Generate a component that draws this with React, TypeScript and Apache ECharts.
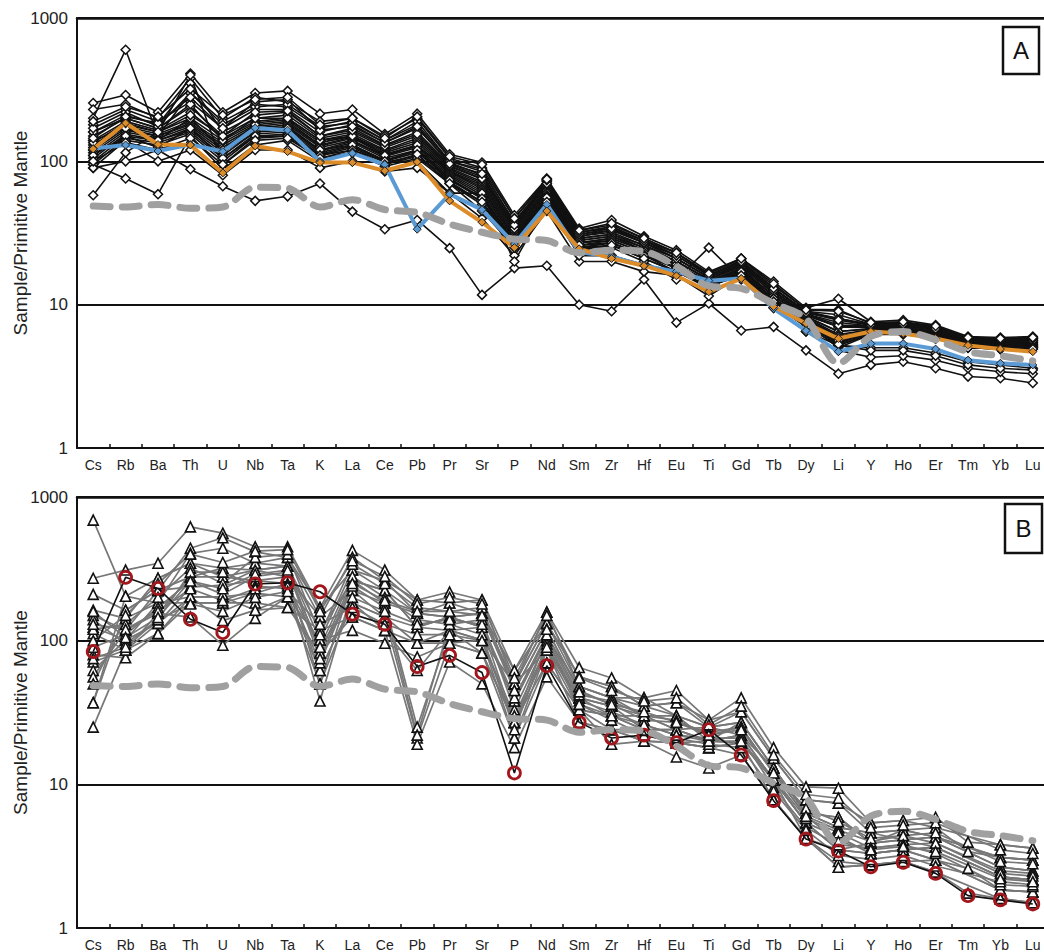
import React, { useEffect, useRef } from "react";
import * as echarts from "echarts";

const categories = ["Cs","Rb","Ba","Th","U","Nb","Ta","K","La","Ce","Pb","Pr","Sr","P","Nd","Sm","Zr","Hf","Eu","Ti","Gd","Tb","Dy","Li","Y","Ho","Er","Tm","Yb","Lu"];
const yTickLabels = ["1", "10", "100", "1000"];

const primitiveRef = [48.7,48,50,47,48,66,65,48,54,46,44,36.5,32,28.7,28,23,24,23.5,18.5,13.5,13,10.2,8,3.9,6.0,6.5,5.7,4.7,4.4,4.05];

const suiteABlue = [123,130,118,131,117,171,165,100,114,95,33.6,59,46,26.5,50,23.3,21.6,18.7,17,14.7,15.2,9.4,6.6,4.7,5.35,5.35,4.9,4.1,3.9,3.8];
const suiteAOrange = [122,185,131,130,83,128,117,98,98,86,99,53,37.6,25,45,24.5,21,18.7,15.9,12.3,15.2,9.7,7.4,5.8,6.5,6.3,5.8,5.2,4.9,4.7];

const suiteA01 = [255,290,220,410,220,300,310,215,230,155,215,112,98,42,76,34,39,30,24,17,21,14.5,9.5,11,7.6,7.8,7.2,6.0,5.9,6.0];
const suiteA02 = [230,250,200,380,200,280,260,190,200,150,200,105,90,40,74,33,36,29,23,16.5,21,13.5,9.3,9.2,7.4,7.5,7.0,5.9,5.8,5.9];
const suiteA03 = [200,600,150,300,190,250,240,170,190,140,180,100,85,38,72,32,35,28,22,16,20,13,9,8.5,7.3,7.4,6.9,5.8,5.7,5.8];
const suiteA04 = [180,230,190,260,170,230,230,160,180,135,170,98,80,36,70,31,34,27,22,16,20,13,8.8,8,7.2,7.3,6.8,5.7,5.6,5.7];
const suiteA05 = [160,210,180,350,160,210,220,150,170,130,160,95,78,35,68,30,33,27,21,15.5,19.5,12.5,8.6,7.5,7.1,7.2,6.7,5.6,5.5,5.6];
const suiteA06 = [150,200,170,240,150,200,210,145,160,125,150,92,75,34,66,30,32,26,21,15.5,19,12.5,8.5,7,7.0,7.1,6.6,5.6,5.5,5.5];
const suiteA07 = [140,190,165,220,145,190,200,140,155,120,145,90,72,33,64,29,31,26,20,15,19,12,8.4,7,6.9,7.0,6.5,5.5,5.4,5.5];
const suiteA08 = [130,180,160,200,140,185,195,135,150,118,140,88,70,32,63,29,31,25,20,15,18.5,12,8.3,6.5,6.8,6.9,6.4,5.5,5.4,5.4];
const suiteA09 = [125,175,155,190,135,180,190,130,148,115,135,86,68,31,62,28,30,25,20,15,18.5,12,8.2,6.5,6.8,6.8,6.4,5.4,5.3,5.4];
const suiteA10 = [120,170,150,185,130,175,185,128,145,112,130,85,66,30,60,28,30,24,19,14.5,18,11.5,8.1,6.2,6.7,6.8,6.3,5.4,5.3,5.3];
const suiteA11 = [115,165,150,180,125,170,180,125,140,110,128,84,64,30,60,27,29,24,19,14.5,18,11.5,8,6,6.6,6.7,6.2,5.3,5.2,5.3];
const suiteA12 = [110,160,145,175,120,165,175,120,138,108,125,82,62,29,58,27,29,24,19,14.5,17.5,11.5,8,6,6.6,6.6,6.2,5.3,5.2,5.2];
const suiteA13 = [105,155,140,170,115,160,170,118,135,105,120,80,60,29,57,27,28,23,19,14,17.5,11,7.9,5.8,6.5,6.6,6.1,5.2,5.1,5.2];
const suiteA14 = [100,150,140,165,110,160,165,115,130,102,118,78,58,28,56,26,28,23,18,14,17,11,7.8,5.6,6.5,6.5,6.1,5.2,5.1,5.1];
const suiteA15 = [95,145,135,160,105,155,160,112,128,100,115,76,56,28,55,26,27,22,18,14,17,11,7.7,5.5,6.4,6.4,6.0,5.1,5.0,5.1];
const suiteA16 = [90,140,130,155,100,150,155,110,125,98,110,75,55,27,54,25,27,22,18,14,16.5,10.8,7.6,5.4,6.3,6.4,6.0,5.1,5.0,5.0];
const suiteA17 = [58,115,160,400,95,145,150,105,120,95,108,72,52,27,52,25,26,22,17,13.5,16.5,10.5,7.5,5.2,6.2,6.3,5.9,5.0,4.9,5.0];
const suiteA18 = [95,76,59,150,88,130,140,100,115,92,105,70,50,26,50,24,26,21,17,13.5,16,10.5,7.4,5,6.2,6.2,5.8,5.0,4.9,4.9];
const suiteA19 = [90,100,120,88,67,53,57,70,44.6,33.6,39,24.8,11.7,18,18.7,10,9,15,7.5,10.2,6.6,7.0,4.8,3.3,3.8,4.0,3.6,3.15,3.07,2.84];
const suiteA20 = [140,170,140,200,120,180,170,120,130,100,100,60,40,22,45,20,20,17,16,11.5,16,9.5,6.5,4.8,4.3,4.4,4.1,3.6,3.4,3.3];
const suiteA21 = [160,200,170,250,140,200,200,140,150,110,130,70,45,25,50,22,22,19,17,13,17,10,7,5.2,5.0,5.0,4.6,4.0,3.8,3.6];
const suiteA22 = [120,140,100,120,80,120,120,90,100,85,90,60,60,20,50,25,25,20,15,25,15,9.5,6.5,5.2,4.8,4.8,4.4,3.8,3.6,3.5];
const suiteA23 = [170,220,175,300,180,240,250,175,185,140,190,100,88,37,73,32,35,28,23,16,20.5,13,9,8,7.3,7.4,6.9,5.8,5.7,5.8];
const suiteA24 = [135,185,160,210,150,220,225,150,165,128,155,93,76,34,70,31,33,27,21,15.5,19.5,12.5,8.6,7.2,7.1,7.2,6.7,5.7,5.6,5.6];
const suiteA25 = [145,205,185,280,170,260,270,165,175,135,175,96,82,36,74,32,34,28,22,16,20,13,8.8,7.8,7.2,7.3,6.8,5.8,5.7,5.8];
const suiteA26 = [110,150,125,170,105,150,150,110,120,100,120,74,55,28,56,26,27,22,18,14,17,11,7.6,5.6,6.3,6.3,5.9,5.1,5.0,5.0];
const suiteA27 = [190,240,205,320,210,270,280,180,200,145,205,108,95,40,75,33,37,29,23,16.5,21,14,9.2,9,7.5,7.6,7.1,5.9,5.8,5.9];
const suiteA28 = [100,135,120,145,95,140,145,105,115,95,112,70,52,26,52,24,26,21,17,13.5,16,10.5,7.4,5.3,6.2,6.3,5.8,5.0,4.9,4.9];
const suiteALines = [suiteA01,suiteA02,suiteA03,suiteA04,suiteA05,suiteA06,suiteA07,suiteA08,suiteA09,suiteA10,suiteA11,suiteA12,suiteA13,suiteA14,suiteA15,suiteA16,suiteA17,suiteA18,suiteA19,suiteA20,suiteA21,suiteA22,suiteA23,suiteA24,suiteA25,suiteA26,suiteA27,suiteA28];

const suiteBRed = [84,276,231,141,114,248,253,219,153,130,66,79,60,12,67,27,21,22,19.5,24,16,7.7,4.16,3.44,2.67,2.87,2.4,1.68,1.57,1.47];

const suiteB01 = [690,204,272,346,278,310,330,118,262,224,124,146,155,50,132,48,40,35,30,25,27,13,6.3,5.0,4.6,4.8,4.3,null,3.1,2.97];
const suiteB02 = [272,310,346,620,560,450,450,170,425,310,192,218,192,62,158,65,55,40,45,28,40,18,9.6,9.4,5.4,5.6,5.9,3.96,3.8,3.6];
const suiteB03 = [210,163,224,440,520,415,380,146,380,262,155,183,155,50,132,56,48,35,37,25,32,15.2,7.8,7.4,4.6,4.8,5.0,3.4,3.1,2.97];
const suiteB04 = [163,143,183,405,440,346,330,101,310,224,124,146,124,38,106,48,40,30,30,20,27,13,6.3,5.9,3.9,4.1,4.3,null,2.65,2.5];
const suiteB05 = [150,118,155,278,320,310,278,50,262,183,25,118,101,27,86,40,35,30,24,20,22,10.7,5.4,4.3,3.3,3.5,3.65,null,2.27,2.16];
const suiteB06 = [124,101,132,237,243,262,250,38,224,146,21,96,82,21,70,33,30,24,19.5,18,19.5,10.7,5.4,3.5,3.3,3.5,2.97,null,1.84,1.78];
const suiteB07 = [112,86,112,202,202,214,202,62,183,118,19,71,50,18,56,27,24,20,15.5,13,16,7.8,4.2,2.65,2.75,2.9,2.45,1.75,1.6,1.5];
const suiteB08 = [80,76,112,183,183,183,170,82,146,118,96,96,82,27,70,33,19,20,19.5,18,19.5,7.8,4.2,2.9,2.75,2.9,2.97,2.6,1.84,1.78];
const suiteB09 = [71,86,155,146,93,143,202,101,118,96,77,96,101,50,86,40,30,24,24,25,22,10.7,5.4,3.5,3.9,4.1,3.65,null,2.27,2.16];
const suiteB10 = [62,101,183,202,138,163,170,118,146,118,62,118,124,38,106,40,35,24,24,20,22,13,6.3,5.0,4.6,4.1,4.3,null,2.65,2.5];
const suiteB11 = [56,118,224,278,278,262,278,146,224,183,155,146,155,62,132,56,48,35,37,28,32,15.2,7.8,7.4,5.4,5.6,5.0,null,3.8,3.6];
const suiteB12 = [50,143,272,346,320,346,380,170,310,262,192,183,192,50,158,48,40,40,30,25,27,13,6.3,5.9,3.9,4.8,4.3,null,3.1,2.97];
const suiteB13 = [37,163,224,237,243,310,330,82,262,224,155,146,124,27,106,33,30,30,24,20,19.5,10.7,5.4,4.3,3.3,3.5,3.65,null,2.27,2.16];
const suiteB14 = [37,204,183,183,183,214,250,62,183,146,124,118,101,21,86,27,24,20,19.5,18,16,7.8,4.2,2.65,2.75,2.9,2.45,null,1.6,1.5];
const suiteB15 = [25,86,132,202,202,163,202,50,183,146,96,118,82,27,86,33,24,24,19.5,20,19.5,10.7,4.2,3.5,3.3,3.5,2.97,null,1.84,1.78];
const suiteB16 = [120,130,200,320,250,380,400,110,340,250,170,160,170,45,120,45,36,28,27,23,25,12,6.0,4.8,4.0,4.4,3.9,null,2.5,2.4];
const suiteB17 = [90,110,170,260,210,280,300,90,280,200,140,130,140,33,100,38,32,26,22,21,21,9.5,5.0,3.8,3.6,3.8,3.3,null,2.0,1.95];
const suiteB18 = [140,95,140,300,300,240,230,70,240,170,22,130,110,24,95,36,28,22,21,19,18,9,4.8,3.2,3.0,3.2,2.7,null,2.1,2.0];
const suiteB19 = [100,150,250,400,350,420,430,160,360,280,180,200,180,55,150,55,45,38,40,26,35,16,8.5,8,5.0,5.2,5.4,null,3.5,3.3];
const suiteB20 = [130,120,160,230,190,230,240,90,200,160,130,140,130,40,110,42,38,30,28,22,25,12,6.8,5.5,4.2,4.4,4.6,null,2.9,2.8];
const suiteB21 = [75,90,140,180,160,200,220,130,170,130,110,110,100,30,90,36,30,26,22,20,20,11,5.8,4.6,3.6,3.8,3.9,null,2.4,2.3];
const suiteB22 = [160,105,145,260,230,290,310,75,250,190,160,160,150,45,120,44,36,32,27,22,24,12,6.0,4.0,3.5,3.7,3.4,null,2.2,2.1];
const suiteBLines = [suiteB01,suiteB02,suiteB03,suiteB04,suiteB05,suiteB06,suiteB07,suiteB08,suiteB09,suiteB10,suiteB11,suiteB12,suiteB13,suiteB14,suiteB15,suiteB16,suiteB17,suiteB18,suiteB19,suiteB20,suiteB21,suiteB22];

const FONT = "Liberation Sans, Arial, sans-serif";

function makeAxes() {
  const x = {
    type: "category", data: categories, boundaryGap: true,
    axisLine: { lineStyle: { color: "#111", width: 2 } },
    axisTick: { show: true, inside: true, length: 4, interval: 0, lineStyle: { color: "#111", width: 1.5 } },
    axisLabel: { interval: 0, fontSize: 14, color: "#222", fontFamily: FONT, margin: 10 },
    splitLine: { show: false },
  };
  const xTop = {
    type: "category", data: categories, position: "top",
    axisLine: { lineStyle: { color: "#111", width: 2.5 } },
    axisTick: { show: false }, axisLabel: { show: false }, splitLine: { show: false },
  };
  const y = {
    type: "log", logBase: 10, min: 1, max: 1000,
    name: "Sample/Primitive Mantle", nameLocation: "middle", nameGap: 47, nameRotate: 90,
    nameMoveOverlap: false,
    nameTextStyle: { fontSize: 19, color: "#222", fontFamily: FONT },
    axisLine: { show: true, lineStyle: { color: "#111", width: 2 } },
    axisTick: { show: false },
    axisLabel: {
      fontSize: 17, color: "#222", fontFamily: FONT, margin: 9,
      formatter: (v: number) => yTickLabels[Math.round(Math.log10(v))] ?? String(v),
    },
    splitLine: { show: true, lineStyle: { color: "#111", width: 1.8 } },
    minorTick: { show: false },
  };
  return { x, xTop, y };
}

export default function App() {
  const ref = useRef<HTMLDivElement>(null);
  useEffect(() => {
    document.body.style.margin = "0";
    if (!ref.current) return;
    const chart = echarts.init(ref.current, undefined, { renderer: "svg" });
    const a = makeAxes();
    const b = makeAxes();
    const series: any[] = [];
    suiteALines.forEach((d, i) => {
      series.push({
        name: "A" + (i + 1), type: "line", xAxisIndex: 0, yAxisIndex: 0, data: d,
        symbol: "diamond", symbolSize: 9, connectNulls: true, z: 2,
        lineStyle: { color: "#111", width: 1.6 },
        itemStyle: { color: "#fff", borderColor: "#111", borderWidth: 1.5 },
      });
    });
    series.push({
      name: "blue", type: "line", xAxisIndex: 0, yAxisIndex: 0, data: suiteABlue,
      symbol: "diamond", symbolSize: 8, z: 3,
      lineStyle: { color: "#5b9bd5", width: 4 },
      itemStyle: { color: "#5b9bd5", borderColor: "#222", borderWidth: 1 },
    });
    series.push({
      name: "orange", type: "line", xAxisIndex: 0, yAxisIndex: 0, data: suiteAOrange,
      symbol: "diamond", symbolSize: 8, z: 3,
      lineStyle: { color: "#dd8c2a", width: 4 },
      itemStyle: { color: "#dd8c2a", borderColor: "#222", borderWidth: 1 },
    });
    suiteBLines.forEach((d, i) => {
      series.push({
        name: "B" + (i + 1), type: "line", xAxisIndex: 2, yAxisIndex: 1, data: d,
        symbol: "triangle", symbolSize: 10, connectNulls: true, z: 2,
        lineStyle: { color: "#777", width: 1.7 },
        itemStyle: { color: "#fff", borderColor: "#111", borderWidth: 1.6 },
      });
    });
    series.push({
      name: "red", type: "line", xAxisIndex: 2, yAxisIndex: 1, data: suiteBRed,
      symbol: "circle", symbolSize: 12, z: 3,
      lineStyle: { color: "#111", width: 1.6 },
      itemStyle: { color: "rgba(0,0,0,0)", borderColor: "#a3161c", borderWidth: 2.8 },
    });
    [0, 1].forEach((gi) => {
      series.push({
        name: "ref" + gi, type: "line", xAxisIndex: gi === 0 ? 0 : 2, yAxisIndex: gi, data: primitiveRef,
        symbol: "none", smooth: 0.3, z: 4,
        lineStyle: { color: "#a0a0a0", width: 7, type: [17, 12], cap: "round" },
      });
    });
    chart.setOption({
      animation: false,
      backgroundColor: "#fff",
      grid: [
        { left: 77, top: 18, width: 972, height: 430, containLabel: false, outerBoundsMode: "none" },
        { left: 77, top: 497, width: 972, height: 431, containLabel: false, outerBoundsMode: "none" },
      ],
      xAxis: [a.x, a.xTop, b.x, b.xTop].map((ax, i) => ({ ...ax, gridIndex: i < 2 ? 0 : 1 })),
      yAxis: [{ ...a.y, gridIndex: 0 }, { ...b.y, gridIndex: 1 }],
      graphic: [
        { type: "rect", shape: { x: 1003, y: 27, width: 36, height: 47 }, style: { fill: "#fff", stroke: "#111", lineWidth: 2.5 }, z: 10 },
        { type: "text", x: 1021, y: 50.5, style: { text: "A", fontSize: 24, fontFamily: FONT, fill: "#111", align: "center", verticalAlign: "middle" }, z: 11 },
        { type: "rect", shape: { x: 1005, y: 504, width: 37, height: 49 }, style: { fill: "#fff", stroke: "#111", lineWidth: 2.5 }, z: 10 },
        { type: "text", x: 1023.5, y: 528.5, style: { text: "B", fontSize: 24, fontFamily: FONT, fill: "#111", align: "center", verticalAlign: "middle" }, z: 11 },
      ],
      series,
    });
    return () => chart.dispose();
  }, []);
  return <div ref={ref} style={{ position: "absolute", left: 0, top: 0, width: 1044, height: 952 }} />;
}
